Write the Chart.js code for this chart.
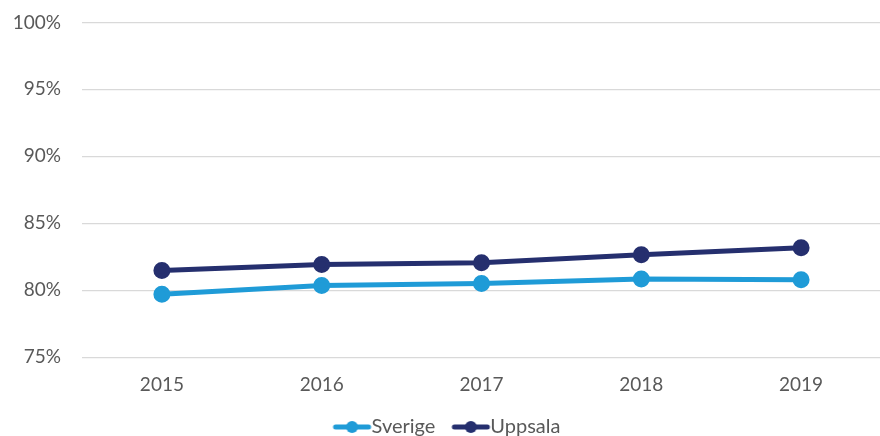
<!DOCTYPE html>
<html><head><meta charset="utf-8">
<script src="https://cdn.jsdelivr.net/npm/chart.js@4"></script>
<style>
html,body{margin:0;padding:0;overflow:hidden;background:#fff;width:880px;height:436px;}
#wrap{position:relative;width:880px;height:436px;overflow:hidden;}
#c{position:absolute;left:0;top:-10px;display:block;}
</style></head><body>
<div id="wrap"><canvas id="c" width="892" height="457"></canvas></div>
<script>
const categories = ["2015","2016","2017","2018","2019"];
const sverige = [79.7, 80.36, 80.5, 80.84, 80.78];
const uppsala = [81.47, 81.92, 82.05, 82.65, 83.18];
const yTicks = [75, 80, 85, 90, 95, 100];
const seriesNames = ["Sverige","Uppsala"];
const colors = ["#1F9BD7","#252F6E"];

function legendIcon(color){
  const cv = document.createElement('canvas');
  cv.width = 54; cv.height = 14;
  const g = cv.getContext('2d');
  g.strokeStyle = color; g.lineWidth = 5; g.lineCap = 'round';
  g.beginPath(); g.moveTo(17,7); g.lineTo(50,7); g.stroke();
  g.fillStyle = color; g.beginPath(); g.arc(33.5,7,6,0,Math.PI*2); g.fill();
  return cv;
}

Chart.defaults.font.family = "Lato, 'Open Sans', sans-serif";
Chart.defaults.color = "#595959";

new Chart(document.getElementById('c'), {
  type: 'line',
  data: {
    labels: categories,
    datasets: [
      {label: seriesNames[0], data: sverige, borderColor: colors[0], backgroundColor: colors[0],
       borderWidth: 5, pointRadius: 6, pointHoverRadius: 6, pointStyle: 'circle', tension: 0},
      {label: seriesNames[1], data: uppsala, borderColor: colors[1], backgroundColor: colors[1],
       borderWidth: 5, pointRadius: 6, pointHoverRadius: 6, pointStyle: 'circle', tension: 0}
    ]
  },
  options: {
    responsive: false, animation: false,
    layout: {padding: {left: 0, right: 2, top: 6, bottom: 0}},
    plugins: {
      tooltip: {enabled: false},
      legend: {
        position: 'bottom',
        labels: {
          usePointStyle: true,
          pointStyleWidth: 32,
          generateLabels: (chart) => chart.data.datasets.map((ds, i) => ({
            text: ds.label, pointStyle: legendIcon(ds.borderColor), fillStyle: ds.borderColor,
            strokeStyle: ds.borderColor, lineWidth: 0, datasetIndex: i, fontColor: '#595959'
          })),
          font: {size: 20}, padding: 13, boxHeight: 14
        }
      }
    },
    scales: {
      x: {
        offset: true,
        grid: {display: false},
        border: {display: false},
        ticks: {font: {size: 19}, padding: 8, color: '#595959'}
      },
      y: {
        min: 75, max: 100,
        afterBuildTicks: (axis) => { axis.ticks = yTicks.map(v => ({value: v})); },
        afterFit: (axis) => { axis.width = 82; },
        grid: {color: '#D9D9D9', lineWidth: 1.3, drawTicks: false},
        border: {display: false},
        ticks: {font: {size: 19}, padding: 21, color: '#595959', callback: v => v + '%'}
      }
    }
  }
});
</script>
</body></html>
